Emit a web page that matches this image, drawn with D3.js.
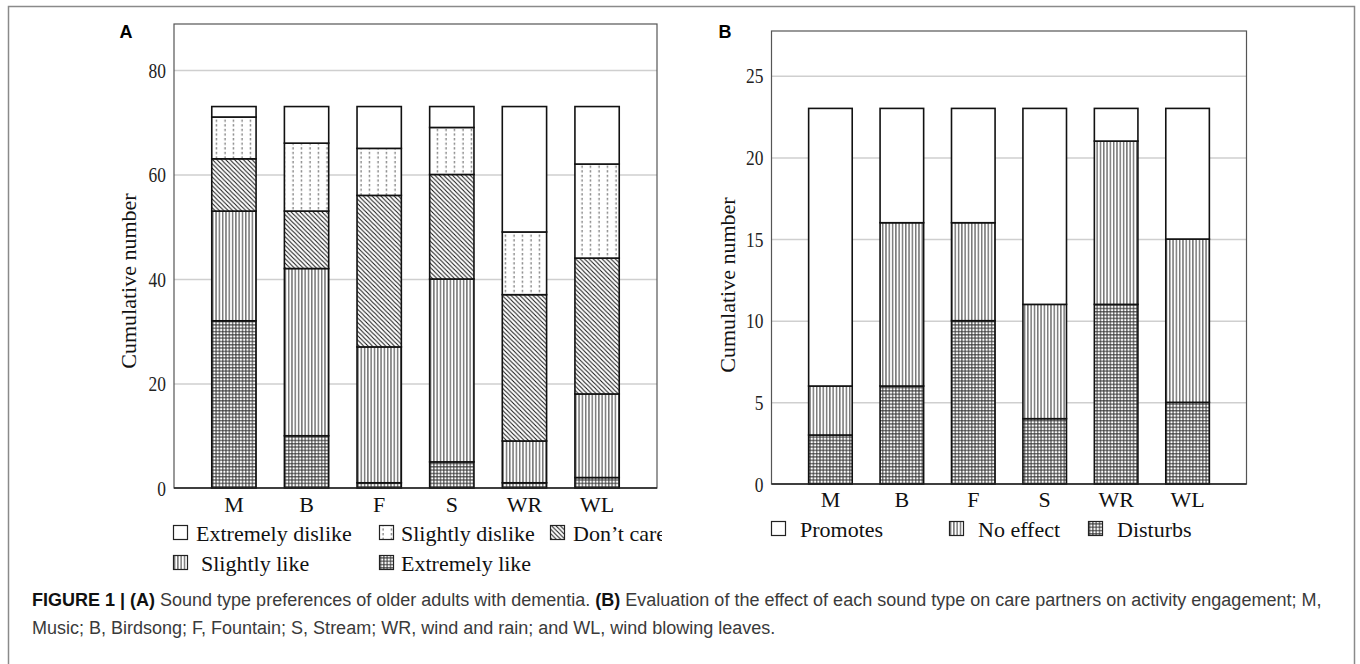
<!DOCTYPE html>
<html>
<head>
<meta charset="utf-8">
<script src="https://cdn.jsdelivr.net/npm/d3@7"></script>
<style>
  body { margin: 0; background: #fff; }
  svg { display: block; }
</style>
</head>
<body>
<svg id="fig" width="1360" height="664"></svg>
<script>
// sound types
const categories = ["M", "B", "F", "S", "WR", "WL"];

// panel A - preferences (bottom to top)
const extremelyLike = [32, 10, 1, 5, 1, 2];
const slightlyLike = [21, 32, 26, 35, 8, 16];
const dontCare = [10, 11, 29, 20, 28, 26];
const slightlyDislike = [8, 13, 9, 9, 12, 18];
const extremelyDislike = [2, 7, 8, 4, 24, 11];
const ticksA = [0, 20, 40, 60, 80];

// panel B - effect on engagement (bottom to top)
const disturbs = [3, 6, 10, 4, 11, 5];
const noEffect = [3, 10, 6, 7, 10, 10];
const promotes = [17, 7, 7, 12, 2, 8];
const ticksB = [0, 5, 10, 15, 20, 25];

const serif = "'Liberation Serif', 'Times New Roman', serif";
const sans = "'Liberation Sans', Arial, Helvetica, sans-serif";

var svg = d3.select("svg#fig");
const defs = svg.append("defs");

// hatch patterns
function pattern(id, w, h) {
  return defs.append("pattern").attr("id", id)
    .attr("patternUnits", "userSpaceOnUse")
    .attr("width", w).attr("height", h);
}
let p = pattern("pDots", 8.5, 4.6);
p.append("rect").attr("width", 8.5).attr("height", 4.6).attr("fill", "#fff");
p.append("line").attr("x1", 4).attr("x2", 4).attr("y1", 0).attr("y2", 2.2)
  .attr("stroke", "#555").attr("stroke-width", 1);

p = pattern("pDiag", 4.4, 4.4);
p.append("rect").attr("width", 4.4).attr("height", 4.4).attr("fill", "#fff");
p.append("path").attr("d", "M0,0L4.4,4.4M-1.1,3.3L1.1,5.5M3.3,-1.1L5.5,1.1")
  .attr("stroke", "#111").attr("stroke-width", 1);

p = pattern("pVert", 3.3, 10);
p.append("rect").attr("width", 3.3).attr("height", 10).attr("fill", "#fff");
p.append("line").attr("x1", 1.6).attr("x2", 1.6).attr("y1", 0).attr("y2", 10)
  .attr("stroke", "#333").attr("stroke-width", 1);

p = pattern("pGrid", 3.3, 3.3);
p.append("rect").attr("width", 3.3).attr("height", 3.3).attr("fill", "#fff");
p.append("path").attr("d", "M1.6,0V3.3M0,1.6H3.3")
  .attr("stroke", "#333").attr("stroke-width", 1);

// panel A legend gets cut at the panel edge
defs.append("clipPath").attr("id", "clipA")
  .append("rect").attr("x", 0).attr("y", 0).attr("width", 662).attr("height", 664);

// outer frame
svg.append("rect")
  .attr("x", 8.5).attr("y", 6.5)
  .attr("width", 1346).attr("height", 700)
  .attr("fill", "none").attr("stroke", "#8a8a8a").attr("stroke-width", 1.5);

function panel(cfg) {
  const g = svg.append("g");
  const x = d3.scaleBand().domain(categories)
    .range([cfg.left, cfg.right]).paddingInner(0.39).paddingOuter(0.52);
  const y = d3.scaleLinear().domain([0, cfg.max]).range([cfg.bottom, cfg.top]);

  // gridlines
  g.append("g")
    .attr("transform", `translate(${cfg.left},0)`)
    .call(d3.axisLeft(y).tickValues(cfg.ticks.slice(1)).tickSize(-(cfg.right - cfg.left)).tickFormat(""))
    .call((a) => {
      a.select(".domain").remove();
      a.selectAll(".tick line").attr("stroke", "#cfcfcf").attr("stroke-width", 1.5);
    });

  // plot frame
  g.append("rect")
    .attr("x", cfg.left).attr("y", cfg.top)
    .attr("width", cfg.right - cfg.left).attr("height", cfg.bottom - cfg.top)
    .attr("fill", "none").attr("stroke", "#555").attr("stroke-width", 1.2);

  // tick labels
  g.append("g")
    .attr("transform", `translate(${cfg.left},0)`)
    .call(d3.axisLeft(y).tickValues(cfg.ticks).tickSize(0).tickPadding(8))
    .call((a) => {
      a.select(".domain").remove();
      a.selectAll(".tick text")
        .attr("font-family", serif).attr("font-size", 22).attr("fill", "#222")
        .attr("textLength", (d) => String(d).length * 8.7)
        .attr("lengthAdjust", "spacingAndGlyphs");
    });

  // stacked bars
  const rows = categories.map((c, i) => {
    const r = { cat: c };
    cfg.series.forEach((s) => (r[s.name] = s.values[i]));
    return r;
  });
  const stack = d3.stack().keys(cfg.series.map((s) => s.name))(rows);
  g.append("g").selectAll("g")
    .data(stack)
    .join("g")
    .attr("fill", (d, i) => cfg.series[i].fill)
    .selectAll("rect")
    .data((d) => d)
    .join("rect")
    .attr("x", (d) => x(d.data.cat))
    .attr("width", x.bandwidth())
    .attr("y", (d) => y(d[1]))
    .attr("height", (d) => y(d[0]) - y(d[1]))
    .attr("stroke", "#111").attr("stroke-width", 1.6);

  // baseline
  g.append("line")
    .attr("x1", cfg.left).attr("x2", cfg.right)
    .attr("y1", y(0)).attr("y2", y(0))
    .attr("stroke", "#222").attr("stroke-width", 1.5);

  // category labels
  g.append("g")
    .attr("transform", `translate(0,${cfg.bottom})`)
    .call(d3.axisBottom(x).tickSize(0).tickPadding(cfg.catPad))
    .call((a) => {
      a.select(".domain").remove();
      a.selectAll(".tick text")
        .attr("font-family", serif).attr("font-size", 22).attr("fill", "#111");
    });

  // y title
  g.append("text")
    .attr("transform", `translate(${cfg.titleX},${cfg.titleY}) rotate(-90)`)
    .attr("text-anchor", "middle")
    .attr("font-family", serif).attr("font-size", 22).attr("fill", "#111")
    .text("Cumulative number");

  // panel letter
  g.append("text")
    .attr("x", cfg.letterX).attr("y", 38)
    .attr("text-anchor", "middle")
    .attr("font-family", sans).attr("font-weight", "bold").attr("font-size", 18)
    .text(cfg.letter);

  // legend
  const lg = g.append("g");
  if (cfg.clip) lg.attr("clip-path", "url(#clipA)");
  cfg.legend.forEach((l) => {
    const item = lg.append("g").attr("transform", `translate(${l.x},${l.y})`);
    item.append("rect")
      .attr("x", 0.5).attr("y", -7.5).attr("width", 14).attr("height", 14)
      .attr("fill", cfg.series.find((s) => s.name === l.name).fill)
      .attr("stroke", "#222").attr("stroke-width", 1.2);
    item.append("text")
      .attr("x", l.tx).attr("y", 0).attr("dy", "0.35em")
      .attr("font-family", serif).attr("font-size", 22).attr("fill", "#111")
      .text(l.name);
  });
}

panel({
  letter: "A", letterX: 126,
  left: 174, right: 657, top: 24, bottom: 488, max: 88.8,
  ticks: ticksA, catPad: 8, titleX: 136, titleY: 281,
  series: [
    { name: "Extremely like", values: extremelyLike, fill: "url(#pGrid)" },
    { name: "Slightly like", values: slightlyLike, fill: "url(#pVert)" },
    { name: "Don’t care", values: dontCare, fill: "url(#pDiag)" },
    { name: "Slightly dislike", values: slightlyDislike, fill: "url(#pDots)" },
    { name: "Extremely dislike", values: extremelyDislike, fill: "#fff" },
  ],
  clip: true,
  legend: [
    { name: "Extremely dislike", x: 173, y: 533, tx: 23 },
    { name: "Slightly dislike", x: 379, y: 533, tx: 22 },
    { name: "Don’t care", x: 550, y: 533, tx: 23 },
    { name: "Slightly like", x: 173, y: 563, tx: 28 },
    { name: "Extremely like", x: 379, y: 563, tx: 22 },
  ],
});

panel({
  letter: "B", letterX: 725,
  left: 771.5, right: 1246.5, top: 31, bottom: 484, max: 27.74,
  ticks: ticksB, catPad: 7, titleX: 735, titleY: 285,
  series: [
    { name: "Disturbs", values: disturbs, fill: "url(#pGrid)" },
    { name: "No effect", values: noEffect, fill: "url(#pVert)" },
    { name: "Promotes", values: promotes, fill: "#fff" },
  ],
  clip: false,
  legend: [
    { name: "Promotes", x: 771, y: 529, tx: 29 },
    { name: "No effect", x: 949, y: 529, tx: 29 },
    { name: "Disturbs", x: 1088, y: 529, tx: 29 },
  ],
});

// caption
const cap = svg.append("g")
  .attr("font-family", sans).attr("font-size", 18).attr("fill", "#3a3a3a");
const line1 = cap.append("text").attr("x", 32).attr("y", 606);
line1.append("tspan").attr("font-weight", "bold").attr("fill", "#111").text("FIGURE 1 | (A)");
line1.append("tspan").text(" Sound type preferences of older adults with dementia. ");
line1.append("tspan").attr("font-weight", "bold").attr("fill", "#111").text("(B)");
line1.append("tspan").text(" Evaluation of the effect of each sound type on care partners on activity engagement; M,");
cap.append("text").attr("x", 32).attr("y", 634)
  .text("Music; B, Birdsong; F, Fountain; S, Stream; WR, wind and rain; and WL, wind blowing leaves.");
</script>
</body>
</html>
